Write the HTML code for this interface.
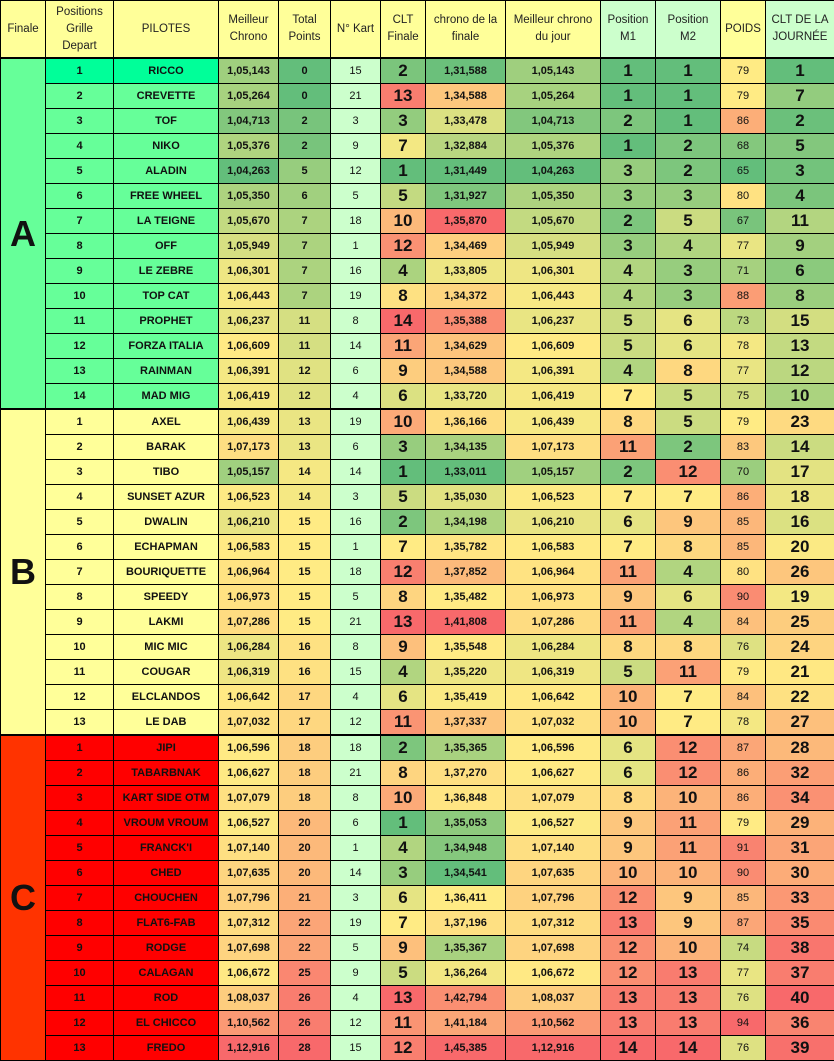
<!DOCTYPE html>
<html><head><meta charset="utf-8">
<style>
body{margin:0;background:#fff;width:834px;height:1060px;overflow:hidden}
table{border-collapse:collapse;table-layout:fixed;width:834px;font-family:"Liberation Sans",Arial,sans-serif;position:absolute;left:0;top:0}
td,th{border:1px solid #000;padding:0;text-align:center;overflow:hidden;white-space:nowrap}
th{height:56px;font-weight:normal;font-size:11.5px;line-height:17px;background:#ffff99;white-space:normal;color:#222}
th.g{background:#ccffcc}
td{height:24px;font-size:11px;font-weight:bold;color:#111}
td.big{font-size:17px;color:#111}
td.n{font-weight:normal;font-size:11px}
td.sec{font-size:36px;font-weight:bold}
tr.first td{border-top:2px solid #000}
</style></head><body>
<table id="t">
<colgroup><col style="width:45px"><col style="width:68px"><col style="width:105px"><col style="width:60px"><col style="width:52px"><col style="width:50px"><col style="width:45px"><col style="width:80px"><col style="width:95px"><col style="width:55px"><col style="width:65px"><col style="width:45px"><col style="width:69px"></colgroup>
<thead><tr><th>Finale</th><th>Positions<br>Grille<br>Depart</th><th>PILOTES</th><th>Meilleur<br>Chrono</th><th>Total<br>Points</th><th>N° Kart</th><th>CLT<br>Finale</th><th>chrono de la<br>finale</th><th>Meilleur chrono<br>du jour</th><th class="g">Position<br>M1</th><th class="g">Position<br>M2</th><th>POIDS</th><th class="g">CLT DE LA<br>JOURNÉE</th></tr></thead>
<tbody id="b"></tbody></table>
<script>
var S={A:`1 RICCO 1,05,143 0 15 2 1,31,588 1,05,143 1 1 79 1
2 CREVETTE 1,05,264 0 21 13 1,34,588 1,05,264 1 1 79 7
3 TOF 1,04,713 2 3 3 1,33,478 1,04,713 2 1 86 2
4 NIKO 1,05,376 2 9 7 1,32,884 1,05,376 1 2 68 5
5 ALADIN 1,04,263 5 12 1 1,31,449 1,04,263 3 2 65 3
6 FREE_WHEEL 1,05,350 6 5 5 1,31,927 1,05,350 3 3 80 4
7 LA_TEIGNE 1,05,670 7 18 10 1,35,870 1,05,670 2 5 67 11
8 OFF 1,05,949 7 1 12 1,34,469 1,05,949 3 4 77 9
9 LE_ZEBRE 1,06,301 7 16 4 1,33,805 1,06,301 4 3 71 6
10 TOP_CAT 1,06,443 7 19 8 1,34,372 1,06,443 4 3 88 8
11 PROPHET 1,06,237 11 8 14 1,35,388 1,06,237 5 6 73 15
12 FORZA_ITALIA 1,06,609 11 14 11 1,34,629 1,06,609 5 6 78 13
13 RAINMAN 1,06,391 12 6 9 1,34,588 1,06,391 4 8 77 12
14 MAD_MIG 1,06,419 12 4 6 1,33,720 1,06,419 7 5 75 10`,
B:`1 AXEL 1,06,439 13 19 10 1,36,166 1,06,439 8 5 79 23
2 BARAK 1,07,173 13 6 3 1,34,135 1,07,173 11 2 83 14
3 TIBO 1,05,157 14 14 1 1,33,011 1,05,157 2 12 70 17
4 SUNSET_AZUR 1,06,523 14 3 5 1,35,030 1,06,523 7 7 86 18
5 DWALIN 1,06,210 15 16 2 1,34,198 1,06,210 6 9 85 16
6 ECHAPMAN 1,06,583 15 1 7 1,35,782 1,06,583 7 8 85 20
7 BOURIQUETTE 1,06,964 15 18 12 1,37,852 1,06,964 11 4 80 26
8 SPEEDY 1,06,973 15 5 8 1,35,482 1,06,973 9 6 90 19
9 LAKMI 1,07,286 15 21 13 1,41,808 1,07,286 11 4 84 25
10 MIC_MIC 1,06,284 16 8 9 1,35,548 1,06,284 8 8 76 24
11 COUGAR 1,06,319 16 15 4 1,35,220 1,06,319 5 11 79 21
12 ELCLANDOS 1,06,642 17 4 6 1,35,419 1,06,642 10 7 84 22
13 LE_DAB 1,07,032 17 12 11 1,37,337 1,07,032 10 7 78 27`,
C:`1 JIPI 1,06,596 18 18 2 1,35,365 1,06,596 6 12 87 28
2 TABARBNAK 1,06,627 18 21 8 1,37,270 1,06,627 6 12 86 32
3 KART_SIDE_OTM 1,07,079 18 8 10 1,36,848 1,07,079 8 10 86 34
4 VROUM_VROUM 1,06,527 20 6 1 1,35,053 1,06,527 9 11 79 29
5 FRANCK'I 1,07,140 20 1 4 1,34,948 1,07,140 9 11 91 31
6 CHED 1,07,635 20 14 3 1,34,541 1,07,635 10 10 90 30
7 CHOUCHEN 1,07,796 21 3 6 1,36,411 1,07,796 12 9 85 33
8 FLAT6-FAB 1,07,312 22 19 7 1,37,196 1,07,312 13 9 87 35
9 RODGE 1,07,698 22 5 9 1,35,367 1,07,698 12 10 74 38
10 CALAGAN 1,06,672 25 9 5 1,36,264 1,06,672 12 13 77 37
11 ROD 1,08,037 26 4 13 1,42,794 1,08,037 13 13 76 40
12 EL_CHICCO 1,10,562 26 12 11 1,41,184 1,10,562 13 13 94 36
13 FREDO 1,12,916 28 15 12 1,45,385 1,12,916 14 14 76 39`};
var secs=['A','B','C'],rows={},all=[];
secs.forEach(s=>{rows[s]=S[s].split('\n').map(l=>l.trim().split(' ').map(x=>x.replace(/_/g,' ')));all=all.concat(rows[s]);});
function num(v){return parseFloat(v.replace(/,/g,''))}
function stats(arr){var a=arr.slice().sort((x,y)=>x-y);var n=a.length;var m=n%2?a[(n-1)/2]:(a[n/2-1]+a[n/2])/2;return [a[0],m,a[n-1]];}
var G=[99,190,123],Y=[255,235,132],R=[248,105,107];
function col(v,st){var c;if(v<=st[1]){var t=st[1]==st[0]?0:(v-st[0])/(st[1]-st[0]);c=G.map((g,i)=>g+(Y[i]-g)*t);}else{var t=(v-st[1])/(st[2]-st[1]);c=Y.map((y,i)=>y+(R[i]-y)*t);}return 'rgb('+c.map(Math.round).join(',')+')';}
var globalCols=[2,3,7,8,9,10,11],secCols=[5,6];
var gst={};globalCols.forEach(c=>gst[c]=stats(all.map(r=>num(r[c]))));
var secBg={A:'#66ff99',B:'#ffff99',C:'#ff3300'},gridBg={A:'#66ff99',B:'#ffff99',C:'#ff0000'};
var h='';
secs.forEach(s=>{var sst={};secCols.forEach(c=>sst[c]=stats(rows[s].map(r=>num(r[c]))));
rows[s].forEach((r,i)=>{var gb=gridBg[s];if(s=='A'&&i==0)gb='#00ff99';
h+='<tr'+(i==0?' class="first"':'')+'>';
if(i==0)h+='<td class="sec" rowspan="'+rows[s].length+'" style="background:'+secBg[s]+'">'+s+'</td>';
h+='<td style="background:'+gb+'">'+r[0]+'</td><td style="background:'+gb+'">'+r[1]+'</td>';
for(var c=2;c<12;c++){var st=gst[c]||sst[c];var bg=c==4?'#ccffcc':col(num(r[c]),st);
var cls=(c==5||c==8||c==9||c==11)?'big':(c==4||c==10)?'n':'';
h+='<td class="'+cls+'" style="background:'+bg+'">'+r[c]+'</td>';}
h+='</tr>';});});
document.getElementById('b').innerHTML=h;
</script>
</body></html>
